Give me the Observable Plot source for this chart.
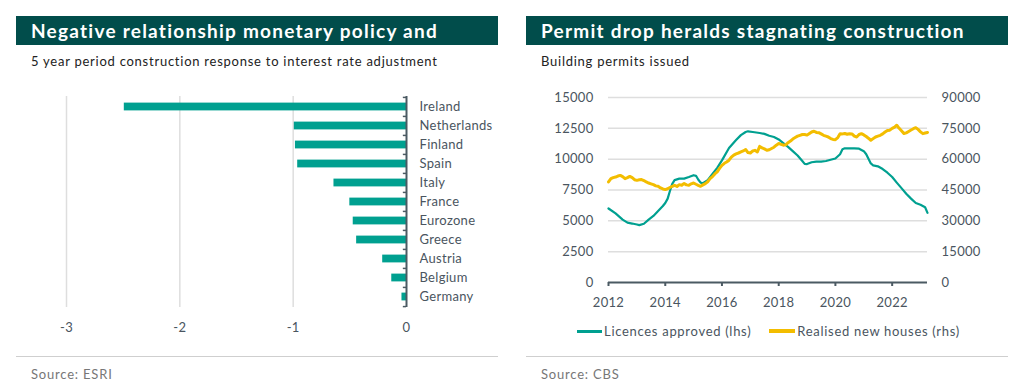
<!DOCTYPE html>
<html><head><meta charset="utf-8">
<script src="https://cdn.jsdelivr.net/npm/d3@7"></script>
<script src="https://cdn.jsdelivr.net/npm/@observablehq/plot@0.6"></script>
<style>
body{margin:0;background:#fff;width:1030px;height:386px;overflow:hidden;font-family:Lato,sans-serif;position:relative;}
.panel{position:absolute;top:0;width:482px;height:386px;}
.hdr{position:absolute;left:0;top:16px;width:482px;height:29px;background:#014d4b;color:#fff;font-weight:700;font-size:19px;line-height:29px;padding-left:15px;box-sizing:border-box;white-space:nowrap;overflow:hidden;letter-spacing:1.25px;}
.sub{position:absolute;left:15px;top:53px;font-size:13px;line-height:16px;color:#222;white-space:nowrap;letter-spacing:0.75px;}
.chart{position:absolute;left:0;top:80px;}
.rule{position:absolute;left:0;top:356px;width:482px;height:1px;background:#cfcfcf;}
.src{position:absolute;left:15px;top:366px;font-size:13px;line-height:16px;color:#777;letter-spacing:0.8px;}
.legend{position:absolute;top:323px;left:51px;display:flex;align-items:center;font-size:13px;line-height:16px;color:#4a5560;white-space:nowrap;letter-spacing:0.7px;}
.sw{display:inline-block;width:25px;margin-right:2px;}
</style>
</head><body>
<div class="panel" id="p1" style="left:16px">
  <div class="hdr">Negative relationship monetary policy and</div>
  <div class="sub">5 year period construction response to interest rate adjustment</div>
  <div class="chart" id="c1"></div>
  <div class="rule"></div>
  <div class="src">Source: ESRI</div>
</div>
<div class="panel" id="p2" style="left:526px">
  <div class="hdr">Permit drop heralds stagnating construction</div>
  <div class="sub">Building permits issued</div>
  <div class="chart" id="c2"></div>
  <div class="legend">
    <span class="sw" style="height:3px;background:#00a090"></span><span>Licences approved (lhs)</span>
    <span class="sw" style="height:4px;background:#f3bd00;margin-left:18px;width:26px"></span><span>Realised new houses (rhs)</span>
  </div>
  <div class="rule"></div>
  <div class="src">Source: CBS</div>
</div>
<script>
// ---- Left chart data ----
const countries = ["Ireland","Netherlands","Finland","Spain","Italy","France","Eurozone","Greece","Austria","Belgium","Germany"];
const responses = [-2.49,-0.99,-0.98,-0.96,-0.64,-0.50,-0.47,-0.44,-0.21,-0.13,-0.04];
const barTicks = [-3,-2,-1,0];

// ---- Right chart data ----
const licenceMonths = ["2012-01","2012-04","2012-07","2012-09","2012-11","2013-01","2013-02","2013-04","2013-06","2013-08","2013-10","2013-12",
"2014-01","2014-02","2014-03","2014-04","2014-05","2014-07","2014-09","2014-11","2015-01","2015-02","2015-03","2015-04","2015-05","2015-07","2015-09","2015-11",
"2016-01","2016-04","2016-07","2016-09","2016-11","2016-12","2017-02","2017-05","2017-07","2017-09","2017-11","2018-01","2018-03","2018-05","2018-07","2018-09","2018-11","2018-12",
"2019-01","2019-03","2019-05","2019-07","2019-09","2019-11","2020-01","2020-03","2020-04","2020-05","2020-07","2020-09","2020-11",
"2021-01","2021-02","2021-04","2021-05","2021-07","2021-09","2021-11","2022-01","2022-03","2022-05","2022-07","2022-09","2022-11","2023-01","2023-03","2023-04"];
const licenceValues = [6000,5600,5100,4850,4780,4700,4650,4760,5100,5400,5800,6200,
6450,6800,7400,8000,8300,8420,8420,8550,8700,8650,8350,8100,8050,8300,8800,9300,
9900,10900,11550,11950,12200,12260,12200,12120,12050,11900,11800,11600,11300,11000,10650,10300,9850,9620,
9600,9750,9800,9800,9850,9950,10050,10400,10800,10880,10870,10880,10850,
10650,10400,9650,9500,9420,9200,8900,8550,8100,7650,7200,6800,6450,6300,6100,5650];

const houseMonths = d3.utcMonths(new Date(Date.UTC(2012,0,1)), new Date(Date.UTC(2023,4,1))).map(d3.utcFormat("%Y-%m"));
const houseValues = [
48900,50500,51000,51300,51800,52100,51500,50500,51000,51600,51000,50000,
49700,50000,50100,49600,48900,48400,48000,47600,47000,46800,46000,45500,
45200,45600,46200,46800,47300,46700,47600,47300,48200,47500,47300,48000,
48400,47800,47300,46800,47500,48100,49000,50500,51500,52800,53800,55500,
57000,58000,58600,59500,61000,62000,62600,63000,63500,64000,64700,63200,
63000,64000,64300,63500,66200,65500,65000,64300,64600,65200,65800,66800,
67600,67200,66800,67000,68000,68800,69800,70500,71200,71600,72000,72000,
71700,72500,73200,73600,73000,72900,72300,71600,71200,70800,70000,69600,
69500,70500,72400,72300,72500,72100,72400,72300,71200,70800,72000,72400,
71800,71000,70200,69200,70000,70800,71200,71600,72300,73200,74000,74100,
75000,75600,76500,75000,73800,72500,72800,73500,74200,74800,75300,74500,
73300,72400,72700,73000];
const leftTicks = [0,2500,5000,7500,10000,12500,15000];
const rightFactor = 6; // 15000 (lhs) = 90000 (rhs)
const yearTicks = [2012,2014,2016,2018,2020,2022];

const teal = "#00a090", yellow = "#f3bd00", axisCol = "#4b5a63", textCol = "#4a5560", gridCol = "#dedede";
const style = {fontFamily:"Lato, sans-serif", fontSize:"13px", color:textCol, background:"transparent", overflow:"visible", letterSpacing:"0.3px"};

// ---- Left chart ----
const bars = countries.map((c,i)=>({country:c, value:responses[i]}));
const bw = (265-16-38)/countries.length;
const c1 = Plot.plot({
  width:482, height:265, marginTop:16, marginBottom:38, marginLeft:50, marginRight:92,
  style,
  x:{domain:[-3,0], label:null},
  y:{domain:countries, padding:0, label:null},
  marks:[
    Plot.ruleX(barTicks.filter(d=>d<0), {stroke:gridCol, strokeWidth:1.5}),
    Plot.barX(bars, {x:"value", y:"country", fill:teal, insetTop:5.6, insetBottom:5.6}),
    Plot.ruleX([0], {stroke:axisCol, strokeWidth:2}),
    Plot.ruleY(countries, {y:d=>d, x1:-0.028, x2:0, dy:-bw/2, stroke:axisCol, strokeWidth:1.5}),
    Plot.ruleY(countries.slice(-1), {y:d=>d, x1:-0.028, x2:0, dy:bw/2, stroke:axisCol, strokeWidth:1.5}),
    Plot.axisX(barTicks, {tickSize:0, tickPadding:15, tickFormat:d=>String(d), label:null}),
    Plot.axisY({anchor:"right", tickSize:0, tickPadding:13, label:null, textAnchor:"start"})
  ]
});
document.getElementById("c1").append(c1);

// ---- Right chart ----
const parse = d3.utcParse("%Y-%m");
const licences = licenceMonths.map((m,i)=>({date:parse(m), value:licenceValues[i]}));
const houses = houseMonths.map((m,i)=>({date:parse(m), value:houseValues[i]}));
const c2 = Plot.plot({
  width:482, height:240, marginTop:17, marginBottom:38, marginLeft:82, marginRight:81,
  style,
  x:{type:"utc", domain:[parse("2012-01"), parse("2023-04")], label:null},
  y:{domain:[0,15000], label:null},
  marks:[
    Plot.ruleY(leftTicks.filter(d=>d>0), {stroke:gridCol, strokeWidth:1.5}),
    Plot.line(licences, {x:"date", y:"value", stroke:teal, strokeWidth:2.2}),
    Plot.line(houses, {x:"date", y:d=>d.value/rightFactor, stroke:yellow, strokeWidth:3}),
    Plot.ruleY([0], {stroke:axisCol, strokeWidth:2}),
    Plot.axisY(leftTicks, {anchor:"left", tickSize:0, tickPadding:15, tickFormat:d=>String(d), label:null}),
    Plot.axisY(leftTicks, {anchor:"right", tickSize:0, tickPadding:14, tickFormat:d=>String(d*rightFactor), label:null}),
    Plot.axisX(yearTicks.map(y=>new Date(Date.UTC(y,0,1))), {tickSize:4, tickPadding:11, tickFormat:d3.utcFormat("%Y"), stroke:axisCol, strokeWidth:2, label:null})
  ]
});
document.getElementById("c2").append(c2);
</script>
</body></html>
